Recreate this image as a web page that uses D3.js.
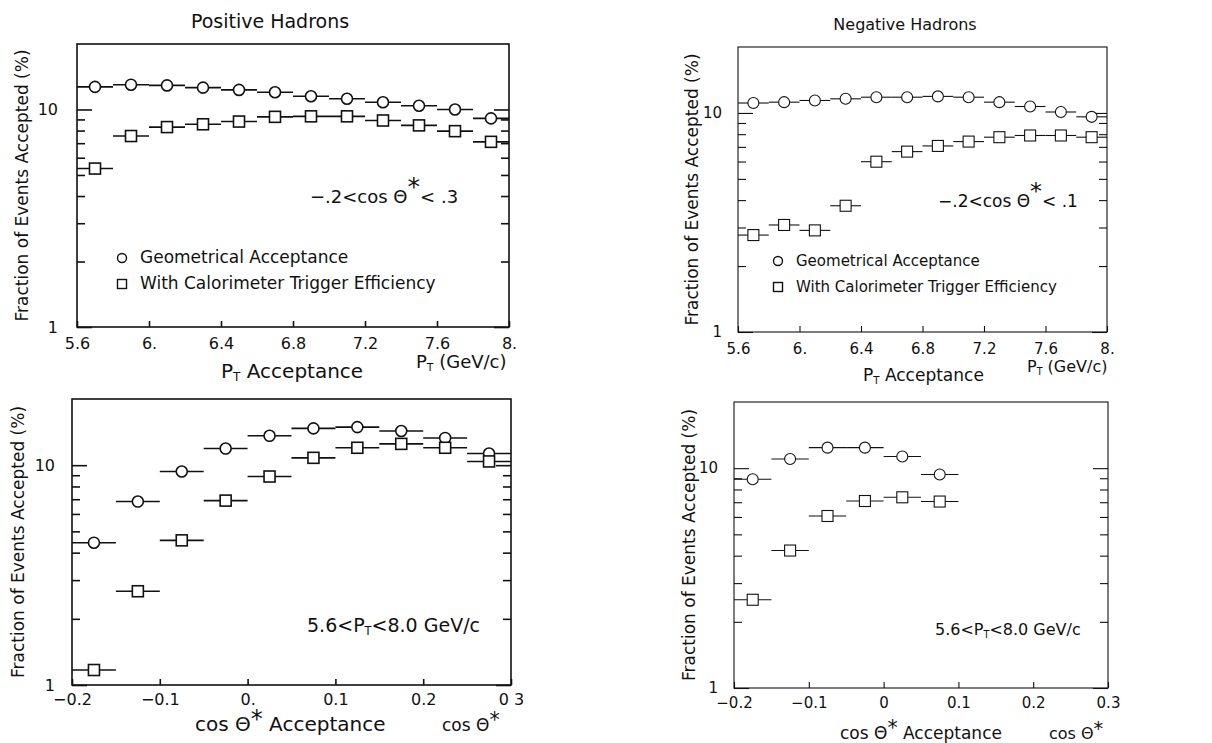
<!DOCTYPE html>
<html>
<head>
<meta charset="utf-8">
<script src="https://cdn.jsdelivr.net/npm/d3@7"></script>
<style>
  body { margin: 0; background: #fff; }
  svg { display: block; }
  text { font-family: "DejaVu Sans", sans-serif; fill: #111; }
</style>
</head>
<body>
<div id="chart"></div>
<script>
// bin centres
var ptBins = [5.7, 5.9, 6.1, 6.3, 6.5, 6.7, 6.9, 7.1, 7.3, 7.5, 7.7, 7.9];
var cosBinsPos = [-0.175, -0.125, -0.075, -0.025, 0.025, 0.075, 0.125, 0.175, 0.225, 0.275];
var cosBinsNeg = [-0.175, -0.125, -0.075, -0.025, 0.025, 0.075];

// positive hadrons, pT acceptance (%)
var posPtGeo = [12.7, 13.0, 12.9, 12.6, 12.3, 12.0, 11.5, 11.2, 10.8, 10.4, 10.0, 9.1];
var posPtCal = [5.35, 7.55, 8.3, 8.55, 8.8, 9.25, 9.3, 9.3, 8.9, 8.45, 7.95, 7.1];
// negative hadrons, pT acceptance (%)
var negPtGeo = [11.1, 11.2, 11.4, 11.6, 11.8, 11.8, 11.9, 11.8, 11.2, 10.7, 10.1, 9.6];
var negPtCal = [2.77, 3.08, 2.91, 3.77, 5.99, 6.66, 7.07, 7.4, 7.75, 7.89, 7.89, 7.75];
// positive hadrons, cos theta* acceptance (%)
var posCosGeo = [4.44, 6.83, 9.36, 11.9, 13.6, 14.7, 14.9, 14.3, 13.3, 11.3];
var posCosCal = [1.17, 2.67, 4.55, 6.9, 8.88, 10.8, 12.0, 12.5, 12.0, 10.4];
// negative hadrons, cos theta* acceptance (%)
var negCosGeo = [8.91, 11.0, 12.4, 12.4, 11.3, 9.36];
var negCosCal = [2.52, 4.22, 6.06, 7.09, 7.37, 7.05];

var ptTicks = [5.6, 6, 6.4, 6.8, 7.2, 7.6, 8];
var ptTickLabels = ["5.6", "6.", "6.4", "6.8", "7.2", "7.6", "8."];
var cosTicks = [-0.2, -0.1, 0, 0.1, 0.2, 0.3];
var cosTickLabelsPos = ["\u22120.2", "\u22120.1", "0.", "0.1", "0.2", "0 3"];
var cosTickLabelsNeg = ["\u22120.2", "\u22120.1", "0", "0.1", "0.2", "0.3"];
var yMajor = [1, 10];
var yMinor = [2, 3, 4, 5, 6, 7, 8, 9];

var svg = d3.select("#chart").append("svg")
  .attr("width", 1212)
  .attr("height", 743);

function drawPanel(p) {
  var x = d3.scaleLinear().domain(p.xDomain).range([p.x0, p.x1]);
  var y = d3.scaleLog().domain([1, 20]).range([p.y1, p.y0]);
  var g = svg.append("g").attr("stroke-width", p.sw);

  g.append("rect")
    .attr("x", p.x0).attr("y", p.y0)
    .attr("width", p.x1 - p.x0).attr("height", p.y1 - p.y0)
    .attr("fill", "none").attr("stroke", "#111");

  // x axis, ticks pointing inward
  var xa = g.append("g")
    .attr("transform", "translate(0," + p.y1 + ")")
    .call(d3.axisBottom(x).tickValues(p.xTicks)
      .tickFormat(function (d, i) { return p.xLabels[i]; })
      .tickSizeInner(-6).tickSizeOuter(0).tickPadding(p.xPad));
  xa.select(".domain").remove();
  xa.selectAll("line").attr("stroke", "#111");
  xa.selectAll("text").attr("font-size", p.fs + "px").attr("fill", "#111")
    .attr("font-family", "DejaVu Sans");

  // y axis left and right, major + minor ticks
  [["left", p.x0], ["right", p.x1]].forEach(function (side) {
    var mk = side[0] === "left" ? d3.axisLeft : d3.axisRight;
    var major = g.append("g").attr("transform", "translate(" + side[1] + ",0)")
      .call(mk(y).tickValues(yMajor).tickFormat(d3.format("d"))
        .tickSizeInner(-15).tickSizeOuter(0).tickPadding(p.yPad));
    var minor = g.append("g").attr("transform", "translate(" + side[1] + ",0)")
      .call(mk(y).tickValues(yMinor).tickFormat("")
        .tickSizeInner(-8).tickSizeOuter(0));
    major.select(".domain").remove();
    minor.select(".domain").remove();
    major.selectAll("line").attr("stroke", "#111");
    minor.selectAll("line").attr("stroke", "#111");
    major.selectAll("text").attr("font-size", p.fs + "px").attr("fill", "#111")
      .attr("font-family", "DejaVu Sans");
    if (side[0] === "right") major.selectAll("text").remove();
  });

  // data: horizontal bin bars + markers
  function series(bins, vals, kind) {
    var pts = bins.map(function (b, i) { return { b: b, v: vals[i] }; });
    g.append("g").selectAll("line").data(pts).enter().append("line")
      .attr("x1", function (d) { return x(d.b - p.hw); })
      .attr("x2", function (d) { return x(d.b + p.hw); })
      .attr("y1", function (d) { return y(d.v); })
      .attr("y2", function (d) { return y(d.v); })
      .attr("stroke", "#111");
    if (kind === "circle") {
      g.append("g").selectAll("circle").data(pts).enter().append("circle")
        .attr("cx", function (d) { return x(d.b); })
        .attr("cy", function (d) { return y(d.v); })
        .attr("r", 5.5).attr("fill", "#fff").attr("stroke", "#111");
    } else {
      g.append("g").selectAll("rect.m").data(pts).enter().append("rect")
        .attr("x", function (d) { return x(d.b) - 5.5; })
        .attr("y", function (d) { return y(d.v) - 5.5; })
        .attr("width", 11).attr("height", 11)
        .attr("fill", "#fff").attr("stroke", "#111");
    }
  }
  series(p.bins, p.geo, "circle");
  series(p.bins, p.cal, "square");

  // y label
  svg.append("text")
    .attr("transform", "translate(" + p.yLabX + "," + ((p.y0 + p.y1) / 2) + ") rotate(-90)")
    .attr("text-anchor", "middle").attr("font-size", p.yfs + "px")
    .text("Fraction of Events Accepted (%)");
}

function ptText(x, y, fs, pre, rest) {
  var t = svg.append("text").attr("x", x).attr("y", y)
    .attr("font-size", fs + "px");
  t.append("tspan").text(pre + "P");
  t.append("tspan").attr("font-size", (fs * 0.6) + "px").attr("dy", 3).text("T");
  t.append("tspan").attr("dy", -3).text(rest);
  return t;
}

function cosText(x, y, fs, rest) {
  var t = svg.append("text").attr("x", x).attr("y", y)
    .attr("font-size", fs + "px");
  t.append("tspan").text("cos \u0398");
  t.append("tspan").attr("dy", -4).attr("font-size", (fs * 1.2) + "px").text("*");
  t.append("tspan").attr("dy", 4).text(rest);
  return t;
}

function legend(x, y, fs) {
  svg.append("circle").attr("cx", x).attr("cy", y - 5).attr("r", 4.5)
    .attr("fill", "none").attr("stroke", "#111").attr("stroke-width", 1.4);
  svg.append("text").attr("x", x + 18).attr("y", y).attr("font-size", fs + "px")
    .text("Geometrical Acceptance");
  svg.append("rect").attr("x", x - 4.5).attr("y", y + 26 - 9.5).attr("width", 9).attr("height", 9)
    .attr("fill", "none").attr("stroke", "#111").attr("stroke-width", 1.4);
  svg.append("text").attr("x", x + 18).attr("y", y + 26).attr("font-size", fs + "px")
    .text("With Calorimeter Trigger Efficiency");
}

// top-left: positive hadrons vs pT
drawPanel({ x0: 77, x1: 509, y0: 44, y1: 327, xDomain: [5.6, 8], xTicks: ptTicks,
  xLabels: ptTickLabels, hw: 0.1, bins: ptBins, geo: posPtGeo, cal: posPtCal,
  sw: 1.6, fs: 16, yfs: 17, xPad: 11, yPad: 19, yLabX: 28 });
// top-right: negative hadrons vs pT
drawPanel({ x0: 738, x1: 1107, y0: 47, y1: 332, xDomain: [5.6, 8], xTicks: ptTicks,
  xLabels: ptTickLabels, hw: 0.1, bins: ptBins, geo: negPtGeo, cal: negPtCal,
  sw: 1.1, fs: 15, yfs: 17, xPad: 11, yPad: 16, yLabX: 698 });
// bottom-left: positive hadrons vs cos theta*
drawPanel({ x0: 72, x1: 511, y0: 399, y1: 685, xDomain: [-0.2, 0.3], xTicks: cosTicks,
  xLabels: cosTickLabelsPos, hw: 0.025, bins: cosBinsPos, geo: posCosGeo, cal: posCosCal,
  sw: 1.6, fs: 16, yfs: 17, xPad: 9, yPad: 17, yLabX: 24 });
// bottom-right: negative hadrons vs cos theta*
drawPanel({ x0: 734, x1: 1108, y0: 402, y1: 688, xDomain: [-0.2, 0.3], xTicks: cosTicks,
  xLabels: cosTickLabelsNeg, hw: 0.025, bins: cosBinsNeg, geo: negCosGeo, cal: negCosCal,
  sw: 1.1, fs: 15, yfs: 17, xPad: 9, yPad: 16, yLabX: 695 });

// titles
svg.append("text").attr("x", 270).attr("y", 28).attr("text-anchor", "middle")
  .attr("font-size", "19px").text("Positive Hadrons");
svg.append("text").attr("x", 905).attr("y", 30).attr("text-anchor", "middle")
  .attr("font-size", "16px").text("Negative Hadrons");

// cut annotations
function cutText(x, y, fs, lo, hi) {
  var t = svg.append("text").attr("x", x).attr("y", y).attr("font-size", fs + "px");
  t.append("tspan").text(lo + "<cos \u0398");
  t.append("tspan").attr("dy", -8).attr("font-size", (fs * 1.4) + "px").text("*");
  t.append("tspan").attr("dy", 8).text("<  " + hi);
}
cutText(310, 203, 18, "\u2212.2", ".3");
cutText(938, 207, 17, "\u2212.2", ".1");

legend(122, 263, 17);
legend(778, 266, 15);

ptText(307, 632, 19, "5.6<", "<8.0  GeV/c");
ptText(935, 635, 16, "5.6<", "<8.0  GeV/c");

// axis titles
ptText(221, 378, 20, "", "  Acceptance");
ptText(416, 368, 18, "", " (GeV/c)");
ptText(863, 381, 17, "", "  Acceptance");
ptText(1027, 372, 16, "", " (GeV/c)");
cosText(195, 731, 20, "  Acceptance");
cosText(442, 731, 17, "");
cosText(840, 739, 17, "  Acceptance");
cosText(1049, 739, 16, "");
</script>
</body>
</html>
